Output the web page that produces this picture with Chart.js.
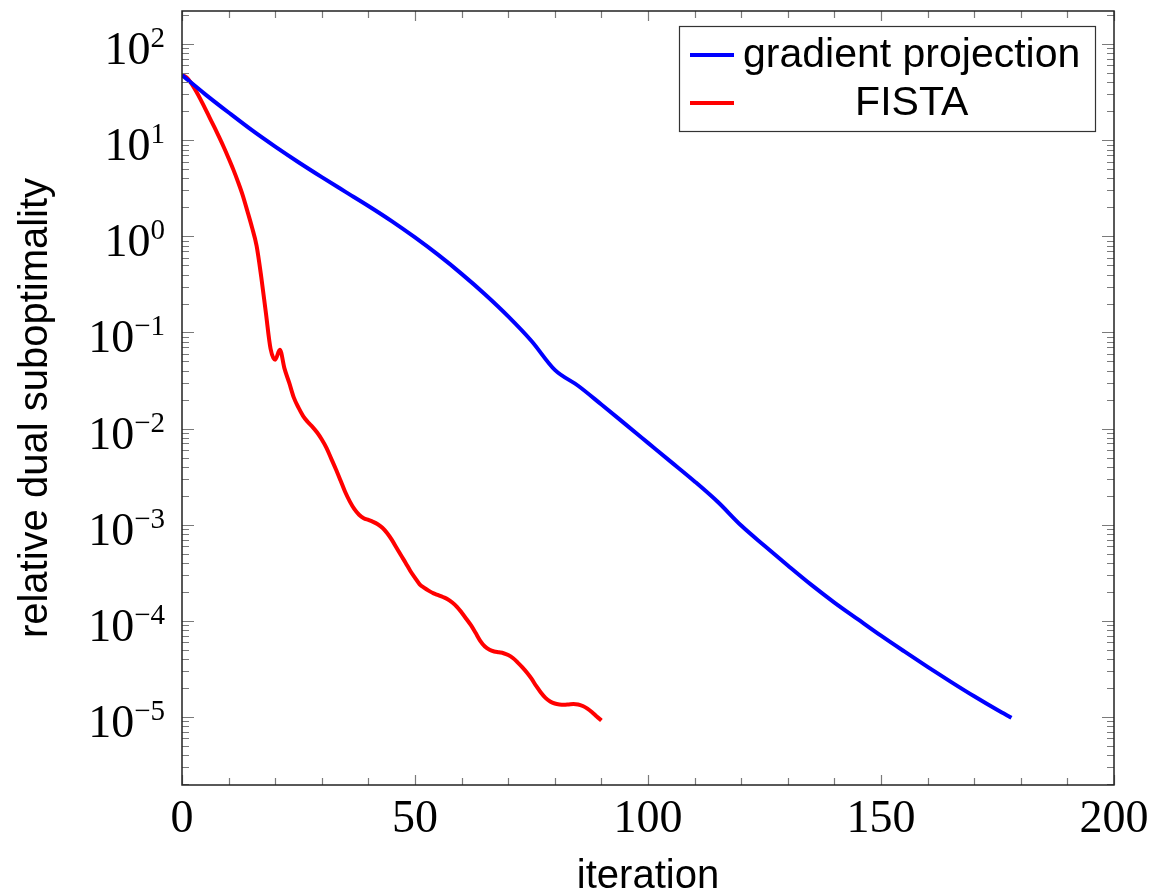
<!DOCTYPE html>
<html>
<head>
<meta charset="utf-8">
<script src="https://cdn.jsdelivr.net/npm/chart.js@4"></script>
<style>
  html, body { margin: 0; padding: 0; background: #fff; }
  #wrap { width: 1153px; height: 893px; }
</style>
</head>
<body>
<div id="wrap"><canvas id="chart" width="1153" height="893"></canvas></div>
<script>
// data
const gpIter = [0, 5, 10, 15, 20, 25, 30, 35, 40, 45, 50, 55, 60, 65, 70, 75, 80, 85, 90, 95,
    100, 105, 110, 115, 120, 125, 130, 135, 140, 145, 150, 155, 160, 165, 170, 175, 178];
const gpValue = [47.5, 30.0, 19.4, 12.7, 8.57, 5.90, 4.13, 2.92, 2.07, 1.44, 0.973, 0.640, 0.407,
    0.250, 0.147, 0.0815, 0.0408, 0.0279, 0.0178, 0.01125, 0.0071, 0.00448, 0.00282, 0.00172,
    0.00098, 6.04e-4, 3.77e-4, 2.38e-4, 1.55e-4, 1.04e-4, 7.0e-5, 4.8e-5, 3.32e-5, 2.32e-5,
    1.64e-5, 1.18e-5, 9.8e-6];

const fistaIter = [0, 1, 2, 3, 4, 5, 6, 7, 8, 9, 10, 11, 12, 13, 14, 15, 16, 17, 18, 19, 20, 21,
    22, 23, 24, 25, 26, 27, 28, 29, 30, 31, 32, 33, 34, 35, 36, 37, 38, 39, 40, 41, 42, 43, 44,
    45, 46, 47, 48, 49, 50, 51, 52, 53, 54, 55, 56, 57, 58, 59, 60, 61, 62, 63, 64, 65, 66, 67,
    68, 69, 70, 71, 72, 73, 74, 75, 76, 77, 78, 79, 80, 81, 82, 83, 84, 85, 86, 87, 88, 89, 90];
const fistaValue = [48, 44.8, 39, 32.4, 26.4, 21.2, 16.9, 13.5, 10.7, 8.4, 6.5, 4.97, 3.71, 2.70,
    1.85, 1.25, 0.80, 0.38, 0.16, 0.068, 0.052, 0.066,
    0.042, 0.030, 0.021, 0.0165, 0.0135, 0.0117, 0.0104, 0.0091, 0.0077, 0.0063, 0.0049, 0.0038,
    0.0029, 0.0022, 0.00175, 0.00145, 0.00127, 0.00117, 0.00112, 0.00107, 0.00101, 0.00093,
    0.00082, 0.0007, 0.00058, 0.00048, 0.0004, 0.00033, 0.00028, 0.00024, 0.00022, 0.000205,
    0.000193, 0.000185, 0.000177, 0.000168, 0.000155, 0.00014, 0.000122, 0.000105, 0.00009,
    0.000075, 0.000062, 0.000054, 0.00005, 0.000048, 0.000047, 0.000046, 0.000044, 0.000041,
    0.000037, 0.000033, 0.000029, 0.000025, 0.000021, 0.000018, 0.0000158, 0.0000145,
    0.0000138, 0.0000135, 0.0000134, 0.0000135, 0.0000136, 0.0000135, 0.000013, 0.0000122,
    0.0000112, 0.0000101, 0.0000092];

const seriesLabels = ['gradient projection', 'FISTA'];
const seriesColors = ['#0000ff', '#ff0000'];
const xTickValues = [0, 50, 100, 150, 200];
const xMinorStep = 10;
const yTickExps = [2, 1, 0, -1, -2, -3, -4, -5];
const xTitle = 'iteration';
const yTitle = 'relative dual suboptimality';

const SERIF = '"Liberation Serif", "DejaVu Serif", serif';
const SANS = '"Liberation Sans", Arial, sans-serif';

const toPoints = (xs, ys) => xs.map((x, i) => ({ x, y: ys[i] }));

// frame, inward ticks, tick labels and titles
const axesPlugin = {
    id: 'axesPlugin',
    afterDatasetsDraw(chart) {
        const ctx = chart.ctx;
        const { left, right, top, bottom } = chart.chartArea;
        const xs = chart.scales.x, ys = chart.scales.y;
        ctx.save();

        // x ticks (bottom and top)
        ctx.strokeStyle = '#7a7a7a';
        ctx.lineWidth = 1.2;
        for (let v = xs.min; v <= xs.max; v += xMinorStep) {
            const px = Math.round(xs.getPixelForValue(v)) + 0.5;
            const len = v % 50 === 0 ? 10 : 7;
            ctx.beginPath();
            ctx.moveTo(px, bottom); ctx.lineTo(px, bottom - len);
            ctx.moveTo(px, top); ctx.lineTo(px, top + len);
            ctx.stroke();
        }
        // y ticks (left and right), major + minor
        const lo = Math.floor(Math.log10(ys.min)), hi = Math.ceil(Math.log10(ys.max));
        for (let e = lo; e <= hi; e++) {
            for (let m = 1; m <= 9; m++) {
                const v = m * Math.pow(10, e);
                if (v < ys.min || v > ys.max) continue;
                const py = Math.round(ys.getPixelForValue(v)) + 0.5;
                const len = m === 1 ? 12 : 7;
                ctx.beginPath();
                ctx.moveTo(left, py); ctx.lineTo(left + len, py);
                ctx.moveTo(right, py); ctx.lineTo(right - len, py);
                ctx.stroke();
            }
        }

        // frame
        ctx.strokeStyle = '#222';
        ctx.lineWidth = 1.5;
        ctx.strokeRect(left, top, right - left, bottom - top);

        // x tick labels
        ctx.fillStyle = '#000';
        ctx.font = '46px ' + SERIF;
        ctx.textAlign = 'center';
        ctx.textBaseline = 'alphabetic';
        xTickValues.forEach(v => {
            ctx.fillText(String(v), xs.getPixelForValue(v), bottom + 47);
        });

        // y tick labels 10^k
        const rightEdge = left - 17;
        yTickExps.forEach(k => {
            const py = ys.getPixelForValue(Math.pow(10, k));
            const expText = k < 0 ? '\u2212' + (-k) : String(k);
            ctx.font = '29px ' + SERIF;
            const ew = ctx.measureText(expText).width;
            ctx.textAlign = 'right';
            ctx.fillText(expText, rightEdge, py + 3);
            ctx.font = '46px ' + SERIF;
            ctx.fillText('10', rightEdge - ew, py + 20);
        });

        // axis titles
        ctx.font = '40px ' + SANS;
        ctx.textAlign = 'center';
        ctx.fillText(xTitle, (left + right) / 2, bottom + 103);
        ctx.save();
        ctx.translate(47, (top + bottom) / 2 + 10);
        ctx.rotate(-Math.PI / 2);
        ctx.textBaseline = 'alphabetic';
        ctx.fillText(yTitle, 0, 0);
        ctx.restore();

        ctx.restore();
    },
    afterDraw(chart) {
        // legend box, text column centred like the reference
        const ctx = chart.ctx;
        const { right, top } = chart.chartArea;
        const bx = right - 435, by = top + 15, bw = 416, bh = 105;
        ctx.save();
        ctx.fillStyle = '#fff';
        ctx.fillRect(bx, by, bw, bh);
        ctx.strokeStyle = '#333';
        ctx.lineWidth = 1.2;
        ctx.strokeRect(bx + 0.5, by + 0.5, bw, bh);
        ctx.font = '41px ' + SANS;
        const textLeft = bx + 64;
        const colW = ctx.measureText(seriesLabels[0]).width;
        const rows = [by + 29, by + 77];
        chart.data.datasets.forEach((ds, i) => {
            ctx.strokeStyle = ds.borderColor;
            ctx.lineWidth = 4;
            ctx.beginPath();
            ctx.moveTo(bx + 11, rows[i]);
            ctx.lineTo(bx + 55, rows[i]);
            ctx.stroke();
            ctx.fillStyle = '#000';
            ctx.textAlign = 'center';
            ctx.textBaseline = 'alphabetic';
            ctx.fillText(ds.label, textLeft + colW / 2, rows[i] + 12);
        });
        ctx.restore();
    }
};

new Chart(document.getElementById('chart'), {
    type: 'line',
    data: {
        datasets: [
            {
                label: seriesLabels[0],
                data: toPoints(gpIter, gpValue),
                borderColor: seriesColors[0],
                borderWidth: 4,
                pointRadius: 0,
                cubicInterpolationMode: 'monotone',
                fill: false
            },
            {
                label: seriesLabels[1],
                data: toPoints(fistaIter, fistaValue),
                borderColor: seriesColors[1],
                borderWidth: 4,
                pointRadius: 0,
                cubicInterpolationMode: 'monotone',
                fill: false
            }
        ]
    },
    options: {
        responsive: false,
        animation: false,
        events: [],
        layout: { padding: { left: 182, right: 39, top: 11, bottom: 108 } },
        plugins: { legend: { display: false }, tooltip: { enabled: false } },
        scales: {
            x: { type: 'linear', min: 0, max: 200, display: false },
            y: { type: 'logarithmic', min: Math.pow(10, -5.708), max: Math.pow(10, 2.344), display: false }
        }
    },
    plugins: [axesPlugin]
});
</script>
</body>
</html>
